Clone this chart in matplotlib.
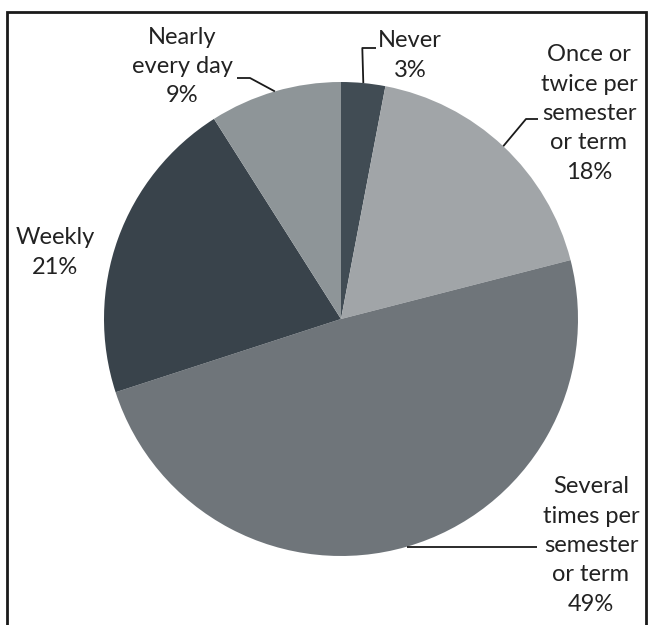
import numpy as np
import matplotlib
matplotlib.use('Agg')
from matplotlib import pyplot as plt
from matplotlib.patches import Rectangle

# survey responses, clockwise from 12 o'clock
categories = ['Never', 'Once or\ntwice per\nsemester\nor term', 'Several\ntimes per\nsemester\nor term',
              'Weekly', 'Nearly\nevery day']
percents = [3, 18, 49, 21, 9]
colors = ['#414c54', '#a1a5a8', '#6f757a', '#39434b', '#8e9598']

W, H = 651, 625
plt.rcParams['font.family'] = ['Lato', 'DejaVu Sans']

fig = plt.figure(figsize=(W / 100, H / 100), dpi=100)
ax = fig.add_axes([0, 0, 1, 1])


def py(y):
    # pixel row -> data y
    return H - y


cx, cy, r = 341, 319, 237
wedges, _ = ax.pie(percents, colors=colors, startangle=90, counterclock=False,
                   center=(cx, py(cy)), radius=r, wedgeprops=dict(linewidth=0),
                   frame=True)

ax.set_xlim(0, W)
ax.set_ylim(0, H)
ax.set_aspect('auto')
ax.axis('off')

# outer frame
ax.add_patch(Rectangle((7, py(660)), 639, 648, fill=False, lw=2, ec='#1a1a1a', zorder=5))


def anchor(i):
    w = wedges[i]
    mid = np.deg2rad((w.theta1 + w.theta2) / 2)
    return cx + r * np.cos(mid), py(cy) + r * np.sin(mid)


# label text: (x, y block centre in pixels)
label_pos = [(410, 55.5), (589, 113.5), (591, 545.5), (55, 252.5), (182, 66.5)]
for i, (lab, pct) in enumerate(zip(categories, percents)):
    x, y = label_pos[i]
    ax.text(x, py(y), f'{lab}\n{pct}%', ha='center', va='center', fontsize=17,
            linespacing=1.49, color='#222222')

lk = dict(color='#1a1a1a', lw=1.3, solid_capstyle='butt')
# leader lines
ax0, ay0 = anchor(0)
ax.plot([ax0, ax0 - 1, 376], [ay0, py(48), py(48)], **lk)
ax1, ay1 = anchor(1)
ax.plot([ax1, 526, 538], [ay1, py(119), py(119)], **lk)
ax2, ay2 = anchor(2)
ax.plot([ax2, 537], [ay2, ay2], **lk)
ax4, ay4 = anchor(4)
ax.plot([ax4, 250, 237], [ay4, py(78), py(78)], **lk)

plt.savefig('out.png', dpi=100)
